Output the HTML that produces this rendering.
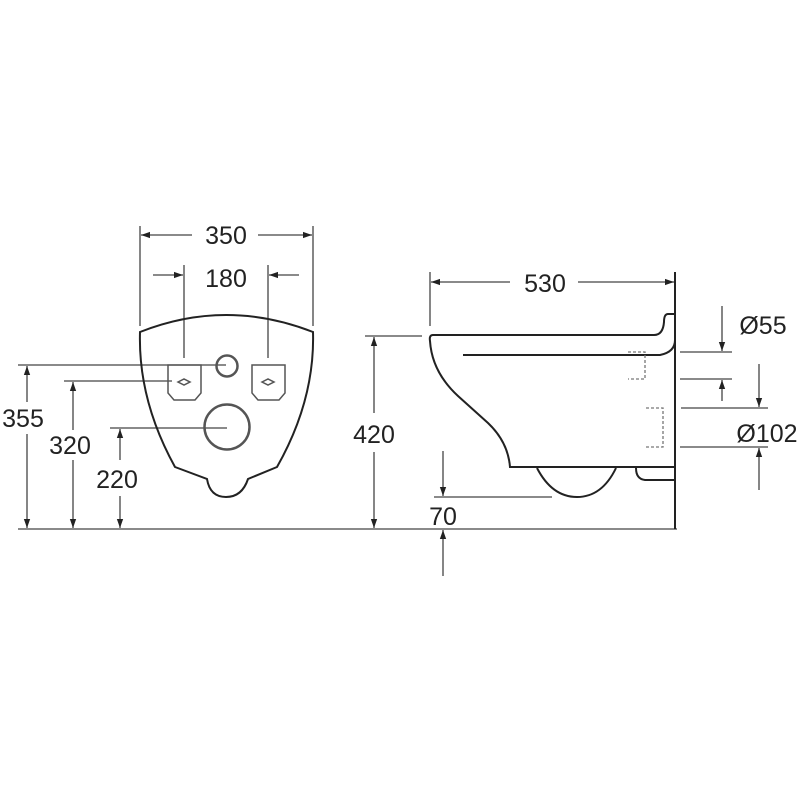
<!DOCTYPE html>
<html><head><style>html,body{margin:0;padding:0;background:#fff}svg{display:block}</style></head>
<body>
<svg width="800" height="800" viewBox="0 0 800 800" xmlns="http://www.w3.org/2000/svg">
<defs>
<marker id="a" viewBox="0 0 10 10" refX="10" refY="5" markerWidth="9" markerHeight="9" markerUnits="userSpaceOnUse" orient="auto"><path d="M0,1.5 L10,5 L0,8.5 Z" fill="#222"/></marker>
</defs>
<g stroke="#444" stroke-width="1.3" fill="none">
<line x1="18" y1="529" x2="677" y2="529"/>
<line x1="140" y1="226" x2="140" y2="326"/><line x1="313" y1="226" x2="313" y2="326"/>
<line x1="192" y1="235" x2="141" y2="235" marker-end="url(#a)"/>
<line x1="258" y1="235" x2="312" y2="235" marker-end="url(#a)"/>
<line x1="184" y1="265" x2="184" y2="358"/><line x1="268" y1="265" x2="268" y2="358"/>
<line x1="153" y1="275" x2="183" y2="275" marker-end="url(#a)"/>
<line x1="299" y1="275" x2="269" y2="275" marker-end="url(#a)"/>
<line x1="18" y1="365" x2="226" y2="365"/>
<line x1="64" y1="381" x2="172" y2="381"/>
<line x1="110" y1="428" x2="227" y2="428"/>
<line x1="27" y1="402" x2="27" y2="366" marker-end="url(#a)"/>
<line x1="27" y1="434" x2="27" y2="528" marker-end="url(#a)"/>
<line x1="73" y1="430" x2="73" y2="382" marker-end="url(#a)"/>
<line x1="73" y1="460" x2="73" y2="528" marker-end="url(#a)"/>
<line x1="120" y1="460" x2="120" y2="429" marker-end="url(#a)"/>
<line x1="120" y1="496" x2="120" y2="528" marker-end="url(#a)"/>
<line x1="430" y1="272" x2="430" y2="326"/>
<line x1="510" y1="282" x2="431" y2="282" marker-end="url(#a)"/>
<line x1="578" y1="282" x2="674" y2="282" marker-end="url(#a)"/>
<line x1="365" y1="336" x2="422" y2="336"/>
<line x1="374" y1="413" x2="374" y2="337" marker-end="url(#a)"/>
<line x1="374" y1="452" x2="374" y2="528" marker-end="url(#a)"/>
<line x1="434" y1="497" x2="552" y2="497"/>
<line x1="443" y1="451" x2="443" y2="496" marker-end="url(#a)"/>
<line x1="443" y1="576" x2="443" y2="530" marker-end="url(#a)"/>
<line x1="680" y1="352" x2="732" y2="352"/>
<line x1="680" y1="379" x2="732" y2="379"/>
<line x1="722" y1="306" x2="722" y2="351" marker-end="url(#a)"/>
<line x1="722" y1="401" x2="722" y2="380" marker-end="url(#a)"/>
<line x1="681" y1="408" x2="768" y2="408"/>
<line x1="680" y1="447" x2="768" y2="447"/>
<line x1="759" y1="364" x2="759" y2="407" marker-end="url(#a)"/>
<line x1="759" y1="490" x2="759" y2="448" marker-end="url(#a)"/>
</g>
<g stroke="#222" stroke-width="2" fill="none">
<path d="M140,332 Q226,298 313,332 Q315,400 277,467 L248,479 Q242,497 226,497 Q210,497 207,479 L175,467 Q138,400 140,332 Z"/>
</g>
<g stroke="#555" stroke-width="1.5" fill="none">
<circle cx="227" cy="366" r="10.5" stroke-width="2.5"/>
<circle cx="227" cy="427" r="22.5" stroke-width="2.5"/>
<path d="M168,365 H201 V393 L195,400 H174 L168,393 Z"/>
<path d="M252,365 H285 V393 L279,400 H258 L252,393 Z"/>
<path d="M178,382 L184,379 L190,382 L184,385 Z"/>
<path d="M262,382 L268,379 L274,382 L268,385 Z"/>
</g>
<g stroke="#222" stroke-width="2" fill="none">
<line x1="675" y1="272" x2="675" y2="529"/>
<path d="M675,314 H668 Q664,314 664,322 Q663,335 654,335 H433 Q429,335 430,341 Q432,372 458,396 L488,423 Q508,442 510,467 H675"/>
<path d="M463,355 H660 Q675,352 675,340"/>
<path d="M537,468 Q552,497 577,497 Q602,497 616,468"/>
<path d="M636,468 Q636,479 645,480 H675"/>
</g>
<g stroke="#777" stroke-width="1.3" fill="none" stroke-dasharray="3,2">
<path d="M628,352 H645 V379 H628"/>
<path d="M646,408 H663 V447 H646"/>
</g>
<g font-family="Liberation Sans, sans-serif" font-size="25" fill="#222" text-anchor="middle">
<text x="226" y="244">350</text>
<text x="226" y="287">180</text>
<text x="23" y="427">355</text>
<text x="70" y="454">320</text>
<text x="117" y="488">220</text>
<text x="374" y="443">420</text>
<text x="545" y="292">530</text>
<text x="443" y="525">70</text>
<text x="763" y="334">Ø55</text>
<text x="767" y="442">Ø102</text>
</g>
</svg>
</body></html>
